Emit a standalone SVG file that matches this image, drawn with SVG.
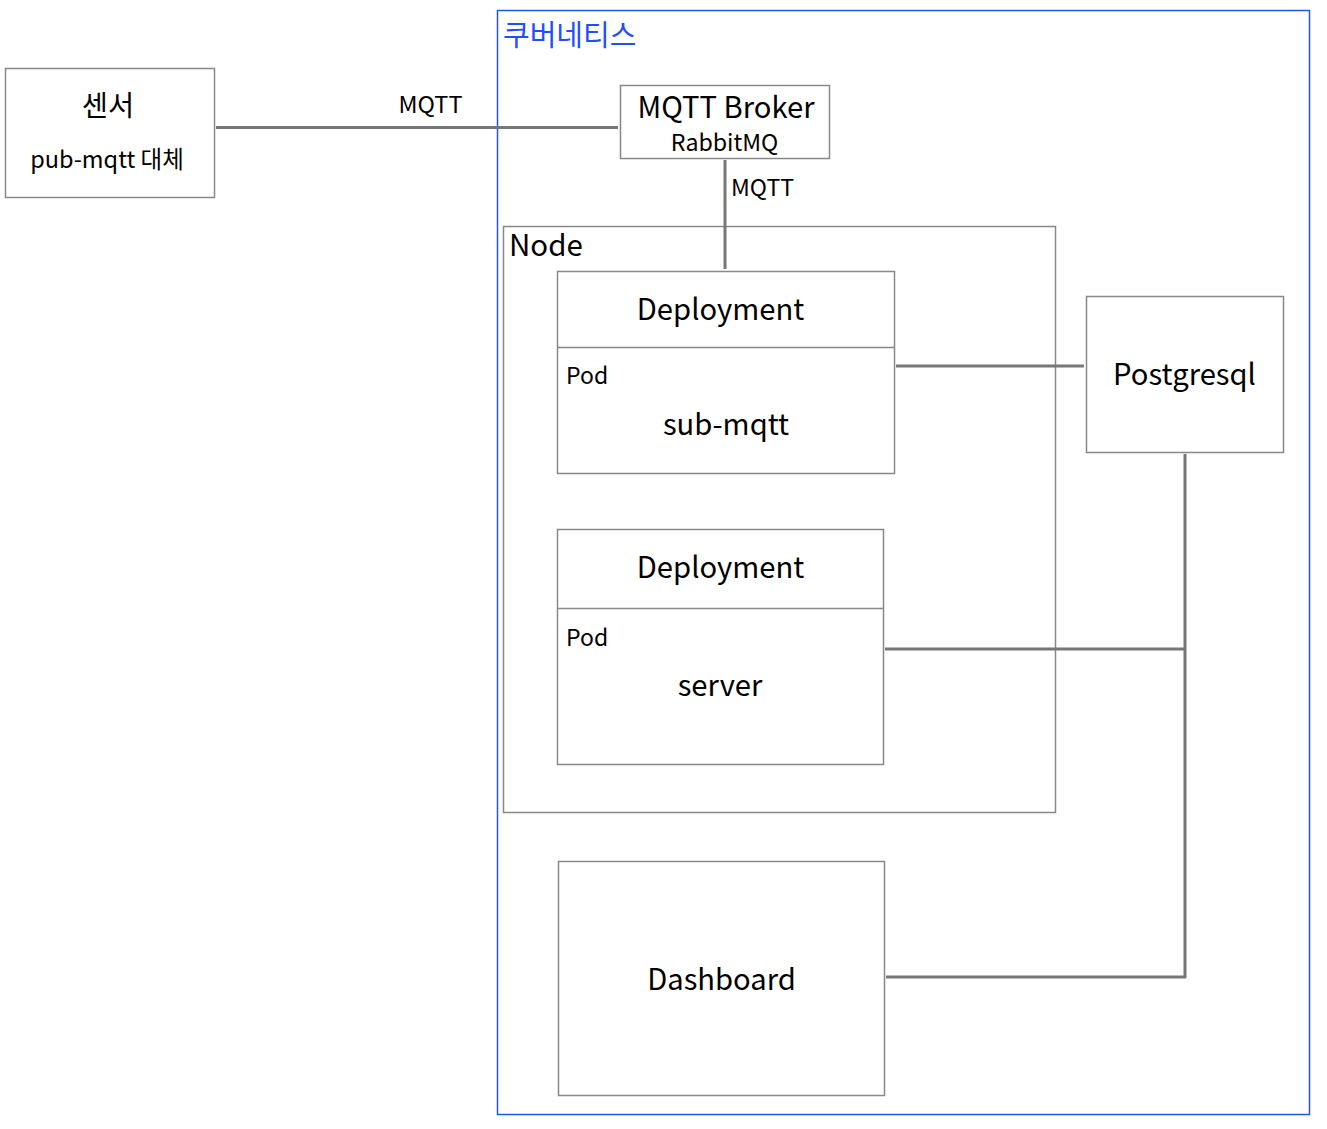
<svg xmlns="http://www.w3.org/2000/svg" width="1327" height="1129" viewBox="0 0 1327 1129">
<style>
text{font-family:"Noto Sans CJK KR","Noto Sans",sans-serif;fill:#000}
.box{fill:#fff;stroke:#888;stroke-width:1.5}
.grp{fill:none;stroke:#888;stroke-width:1.5}
.k8s{fill:none;stroke:#2255ee;stroke-width:1.5}
.conn{fill:none;stroke:#777;stroke-width:3}
.c{text-anchor:middle}
</style>
<rect width="1327" height="1129" fill="#fff"/>
<g id="kubernetes">
<rect class="k8s" x="497.5" y="10.5" width="812" height="1104"/>
<text x="503" y="46" font-size="29" style="fill:#1f4fff">쿠버네티스</text>
</g>
<g id="node">
<rect class="grp" x="503.5" y="226.5" width="552" height="586"/>
<text x="509" y="256" font-size="29.5">Node</text>
</g>
<g id="sensor">
<rect class="box" x="5.5" y="68.5" width="209" height="129"/>
<text class="c" x="108" y="116" font-size="28.5">센서</text>
<text class="c" x="107" y="168" font-size="23.5">pub-mqtt 대체</text>
</g>
<g id="broker">
<rect class="box" x="620.5" y="85.5" width="209" height="73"/>
<text class="c" x="726" y="118" font-size="29.2">MQTT Broker</text>
<text class="c" x="724.5" y="151" font-size="23.2">RabbitMQ</text>
</g>
<g id="deploy-sub">
<rect class="box" x="557.5" y="271.5" width="337" height="202"/>
<line class="grp" x1="557.5" y1="347.5" x2="894.5" y2="347.5"/>
<text class="c" x="720.5" y="320" font-size="29.2">Deployment</text>
<text x="566" y="384" font-size="23">Pod</text>
<text class="c" x="726" y="435" font-size="29.2">sub-mqtt</text>
</g>
<g id="deploy-server">
<rect class="box" x="557.5" y="529.5" width="326" height="235"/>
<line class="grp" x1="557.5" y1="608.5" x2="883.5" y2="608.5"/>
<text class="c" x="720.5" y="578" font-size="29.2">Deployment</text>
<text x="566" y="646" font-size="23">Pod</text>
<text class="c" x="720" y="696" font-size="29.2">server</text>
</g>
<g id="postgresql">
<rect class="box" x="1086.5" y="296.5" width="197" height="156"/>
<text class="c" x="1184.5" y="385" font-size="29.2">Postgresql</text>
</g>
<g id="dashboard">
<rect class="box" x="558.5" y="861.5" width="326" height="234"/>
<text class="c" x="721.5" y="990" font-size="29.2">Dashboard</text>
</g>
<g id="connectors">
<line class="conn" x1="216" y1="127.5" x2="618" y2="127.5"/>
<line class="conn" x1="725" y1="160" x2="725" y2="269"/>
<line class="conn" x1="896" y1="366" x2="1084" y2="366"/>
<line class="conn" x1="885" y1="649" x2="1185" y2="649"/>
<line class="conn" x1="1185" y1="454" x2="1185" y2="978"/>
<line class="conn" x1="886" y1="977" x2="1186" y2="977"/>
<text class="c" x="430.5" y="113" font-size="23.5">MQTT</text>
<text x="731" y="196" font-size="23.2">MQTT</text>
</g>
</svg>
